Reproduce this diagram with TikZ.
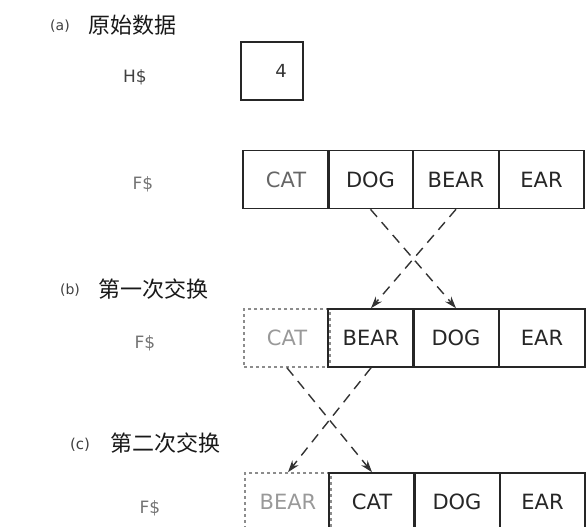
\documentclass[tikz,border=0pt]{standalone}
\usepackage{fontspec}
\setmainfont{DejaVu Sans}
\newfontfamily\cjk{Noto Sans CJK SC}
\usetikzlibrary{arrows.meta}
\begin{document}
\begin{tikzpicture}[x=1pt,y=-1pt,
  ink/.style={draw=black!85, line width=1.6pt},
  cell/.style={ink, minimum width=85.5pt, minimum height=58pt, inner sep=0pt,
     font=\fontsize{21}{21}\selectfont, text=black!85},
  faint/.style={draw=black!45, text=black!40, dashed},
  lbl/.style={font=\fontsize{17}{17}\selectfont, text=black!75, inner sep=0pt},
  ttl/.style={font=\cjk\fontsize{22}{22}\selectfont, text=black!90, inner sep=0pt},
  swap/.style={draw=black!80, line width=1.4pt, dash pattern=on 10pt off 7pt,
     -{Stealth[length=12pt,width=8pt]}}]
\useasboundingbox (0,0) rectangle (587,527);
\clip (0,0) rectangle (587,527);

% titles
\node[lbl,font=\fontsize{14}{14}\selectfont] (ta) at (60,26) {(a)};
\node[ttl, anchor=west] (tat) at (88,25) {原始数据};
\node[lbl,font=\fontsize{14}{14}\selectfont] (tb) at (70,290) {(b)};
\node[ttl, anchor=west] (tbt) at (98,289) {第一次交换};
\node[lbl,font=\fontsize{15}{15}\selectfont] (tc) at (80,445) {(c)};
\node[ttl, anchor=west] (tct) at (110,443) {第二次交换};

% variable names
\node[lbl] (h) at (135,77) {H\$};
\node[lbl,text=black!55] (f1) at (143,184) {F\$};
\node[lbl,text=black!55] (f2) at (145,343) {F\$};
\node[lbl,text=black!55] (f3) at (150,508) {F\$};

% H$ box
\draw[ink] (241,42) rectangle (303,100);
\node[font=\fontsize{18}{18}\selectfont, text=black!80] (four) at (281,71) {4};

% row 1
\node[cell,text=black!60] (a1) at (286,179.5) {CAT};
\node[cell] (a2) at (370.5,179.5) {DOG};
\node[cell] (a3) at (456,179.5) {BEAR};
\node[cell] (a4) at (541.5,179.5) {EAR};

% row 2
\node[cell,faint] (b1) at (287,338) {CAT};
\node[cell] (b2) at (371,338) {BEAR};
\node[cell] (b3) at (456,338) {DOG};
\node[cell] (b4) at (542,338) {EAR};

% row 3
\node[cell,faint] (c1) at (288,502) {BEAR};
\node[cell] (c2) at (372,502) {CAT};
\node[cell] (c3) at (457,502) {DOG};
\node[cell] (c4) at (542.5,502) {EAR};

% swaps
\draw[swap] (a2.south) -- (b3.north);
\draw[swap] (a3.south) -- (b2.north);
\draw[swap] (b1.south) -- (c2.north);
\draw[swap] (b2.south) -- (c1.north);
\end{tikzpicture}
\end{document}
